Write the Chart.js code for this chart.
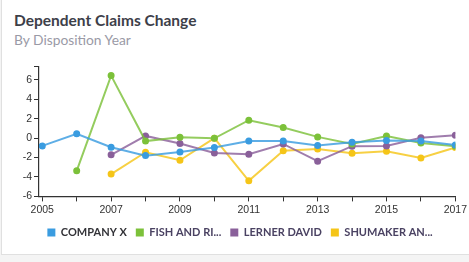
<!DOCTYPE html>
<html>
<head>
<meta charset="utf-8">
<script src="https://cdn.jsdelivr.net/npm/chart.js@4"></script>
<style>
  body { margin: 0; background: #f4f4f4; width: 469px; height: 262px; overflow: hidden; }
  #card { position: absolute; left: 1px; top: 0; width: 468px; height: 254px; background: #fff;
          border-left: 1px solid #e0e0e0; border-bottom: 1px solid #e0e0e0; }
  #title { position: absolute; left: 14px; top: 11px; font: bold 15.5px Lato; color: #3d4049; }
  #subtitle { position: absolute; left: 14px; top: 31px; font: 13.8px Lato; color: #9a9aa6; }
  #wrap { position: absolute; left: 0; top: 58px; width: 469px; height: 190px; }
</style>
</head>
<body>
<div id="card"></div>
<div id="title">Dependent Claims Change</div>
<div id="subtitle">By Disposition Year</div>
<div id="wrap"><canvas id="myChart"></canvas></div>
<script>
const years = [2005, 2006, 2007, 2008, 2009, 2010, 2011, 2012, 2013, 2014, 2015, 2016, 2017];
const yTicks = [-6, -4, -2, 0, 2, 4, 6];
const companyX = [-0.8, 0.45, -0.93, -1.8, -1.42, -0.96, -0.3, -0.3, -0.76, -0.43, -0.23, -0.3, -0.7];
const fishAndRi = [null, -3.37, 6.44, -0.3, 0.1, -0.02, 1.85, 1.09, 0.13, -0.6, 0.23, -0.5, -0.83];
const lernerDavid = [null, null, -1.72, 0.23, -0.56, -1.52, -1.65, -0.6, -2.38, -0.83, -0.8, 0.03, 0.3];
const shumakerAn = [null, null, -3.7, -1.45, -2.28, 0.0, -4.39, -1.29, -1.12, -1.55, -1.36, -2.05, -0.96];

const names = ['COMPANY X', 'FISH AND RI...', 'LERNER DAVID', 'SHUMAKER AN...'];
const colors = ['#3a9ce0', '#7cc13a', '#8a609a', '#f5c518'];
const series = [companyX, fishAndRi, lernerDavid, shumakerAn];

function toPoints(arr) {
    return arr.map((v, i) => ({ x: years[i], y: v }));
}

const datasets = series.map((s, i) => ({
    label: names[i],
    data: toPoints(s),
    borderColor: colors[i] + 'd0',
    backgroundColor: colors[i],
    pointBackgroundColor: colors[i],
    pointBorderColor: colors[i],
    borderWidth: 2,
    pointRadius: 2.5,
    tension: 0
}));

const axisColor = '#333';
const tickFont = { family: 'Liberation Sans', size: 10.5 };

// legend sits a bit right of the canvas centre in the original
const shiftLegend = {
    id: 'shiftLegend',
    afterLayout(chart) {
        chart.legend.left += 10;
        chart.legend.right += 10;
    }
};

var ctx = document.getElementById('myChart').getContext('2d');
new Chart(ctx, {
    type: 'line',
    data: { datasets: datasets },
    plugins: [shiftLegend],
    options: {
        responsive: true,
        maintainAspectRatio: false,
        animation: false,
        layout: { padding: { left: 0, right: 9, top: 6, bottom: 0 } },
        plugins: {
            tooltip: { enabled: false },
            legend: {
                position: 'bottom',
                labels: {
                    boxWidth: 8,
                    boxHeight: 8,
                    padding: 9,
                    font: { family: 'Lato', size: 11, weight: 'bold' },
                    generateLabels: (chart) => {
                        const items = Chart.defaults.plugins.legend.labels.generateLabels(chart);
                        items.forEach((it, i) => {
                            it.fontColor = i === 0 ? '#333338' : '#4a4262';
                            it.lineWidth = 0;
                        });
                        return items;
                    }
                }
            }
        },
        scales: {
            x: {
                type: 'linear',
                min: 2004.905,
                max: 2017,
                afterBuildTicks: (scale) => {
                    scale.ticks = years.map(v => ({ value: v }));
                },
                ticks: {
                    color: axisColor,
                    font: tickFont,
                    padding: 2,
                    maxRotation: 0,
                    autoSkip: false,
                    callback: (v) => (v % 2 === 1 ? String(v) : '')
                },
                grid: { drawOnChartArea: false, drawTicks: true, tickLength: 5, color: axisColor },
                border: { display: true, color: axisColor, width: 1.2 }
            },
            y: {
                min: -6,
                max: 7.4,
                afterBuildTicks: (scale) => {
                    scale.ticks = yTicks.map(v => ({ value: v })).concat([{ value: 7.4 }]);
                },
                afterFit: (scale) => { scale.width = 39; },
                ticks: {
                    color: axisColor,
                    font: tickFont,
                    padding: 2,
                    autoSkip: false,
                    callback: (v) => (yTicks.includes(v) ? String(v) : '')
                },
                grid: { drawOnChartArea: false, drawTicks: true, tickLength: 5, color: axisColor },
                border: { display: true, color: axisColor, width: 1.2 }
            }
        }
    }
});
</script>
</body>
</html>
